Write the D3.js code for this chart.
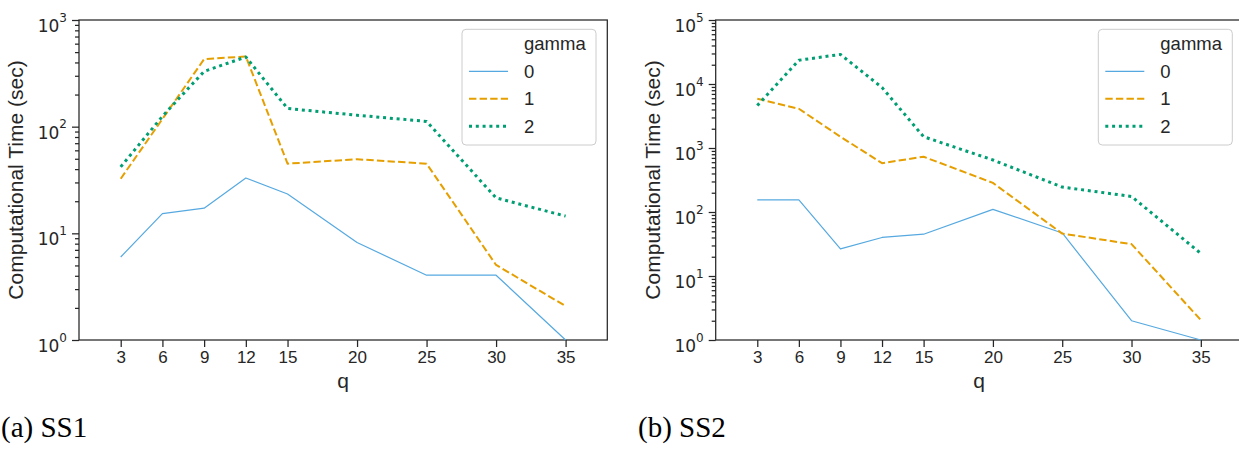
<!DOCTYPE html>
<html>
<head>
<meta charset="utf-8">
<script src="https://cdn.jsdelivr.net/npm/d3@7/dist/d3.min.js"></script>
<style>
  html, body { margin: 0; padding: 0; background: #fff; }
  svg { display: block; }
  .tick line { stroke: #262626; stroke-width: 1.25; }
</style>
</head>
<body>
<div id="chart"></div>
<script>
"use strict";

/* global d3 */

var qValues = [3, 6, 9, 12, 15, 20, 25, 30, 35];
var gammaLabels = ["0", "1", "2"];

// SS1 computational time (sec)
var ss1Gamma0 = [6, 15.3, 17.2, 33, 23.4, 8.2, 4.05, 4.05, 1];
var ss1Gamma1 = [32.5, 118, 430, 455, 45, 49.5, 45, 5.05, 2.08];
var ss1Gamma2 = [42, 125, 330, 450, 148, 128, 112, 21.5, 14.5];

// SS2 computational time (sec)
var ss2Gamma0 = [155, 155, 26.5, 40, 45, 110, 47, 2.0, 1];
var ss2Gamma1 = [5900, 4100, 1500, 580, 730, 285, 46, 31.5, 2.05];
var ss2Gamma2 = [4600, 23500, 29000, 8800, 1500, 650, 245, 175, 22.5];

var ss1YExponents = [0, 1, 2, 3];
var ss2YExponents = [0, 1, 2, 3, 4, 5];

var colors = ["#56a9e0", "#e69f00", "#009e73"];
var widths = [1.2, 2, 3];
var dashes = [null, "7.4,3.2", "3,3.8"];

var textColor = "#262626";

var svg = d3.select("#chart").append("svg")
  .attr("width", 1239)
  .attr("height", 453);

function drawPanel(opts) {
  var x = d3.scaleLinear().domain([0, 38]).range([opts.left, opts.right]);
  var y = d3.scaleLog()
    .domain([1, Math.pow(10, d3.max(opts.exponents))])
    .range([340, 20]);

  var g = svg.append("g");

  // frame
  g.append("rect")
    .attr("x", opts.left).attr("y", 20)
    .attr("width", opts.right - opts.left).attr("height", 320)
    .attr("fill", "none")
    .attr("stroke", textColor)
    .attr("stroke-width", 1.25);

  // x axis
  var xAxis = g.append("g")
    .attr("transform", "translate(0,340)")
    .call(d3.axisBottom(x).tickValues(qValues).tickSize(7).tickPadding(4));
  xAxis.select(".domain").remove();
  xAxis.selectAll(".tick text")
    .attr("fill", textColor)
    .style("font-family", "'Liberation Sans', Arial, sans-serif")
    .style("font-size", "17px");

  // y axis, minor ticks
  var minors = [];
  opts.exponents.slice(0, -1).forEach(function (e) {
    for (var k = 2; k <= 9; k++) minors.push(k * Math.pow(10, e));
  });
  var yMinor = g.append("g")
    .attr("transform", "translate(" + opts.left + ",0)")
    .call(d3.axisLeft(y).tickValues(minors).tickSize(4).tickFormat(""));
  yMinor.select(".domain").remove();
  yMinor.selectAll(".tick line").attr("stroke-width", 1);

  // y axis, major ticks with 10^n labels
  var majors = opts.exponents.map(function (e) { return Math.pow(10, e); });
  var yMajor = g.append("g")
    .attr("transform", "translate(" + opts.left + ",0)")
    .call(d3.axisLeft(y).tickValues(majors).tickSize(7).tickFormat(""));
  yMajor.select(".domain").remove();
  var lab = yMajor.selectAll(".tick").append("text")
    .attr("x", -12)
    .attr("y", 11.5)
    .attr("text-anchor", "end")
    .attr("fill", textColor)
    .style("font-family", "'DejaVu Sans', sans-serif")
    .style("font-size", "17px");
  lab.append("tspan").text("10");
  lab.append("tspan")
    .attr("dy", -10.5)
    .style("font-size", "12px")
    .text(function (d) { return Math.round(Math.log10(d)); });

  // axis titles
  g.append("text")
    .attr("x", (opts.left + opts.right) / 2)
    .attr("y", 388)
    .attr("text-anchor", "middle")
    .attr("fill", textColor)
    .style("font-family", "'Liberation Sans', Arial, sans-serif")
    .style("font-size", "21px")
    .text("q");

  g.append("text")
    .attr("transform", "translate(" + opts.ylabelX + ",180) rotate(-90)")
    .attr("text-anchor", "middle")
    .attr("fill", textColor)
    .style("font-family", "'Liberation Sans', Arial, sans-serif")
    .style("font-size", "21px")
    .text("Computational Time (sec)");

  // lines
  var line = d3.line()
    .x(function (d, i) { return x(qValues[i]); })
    .y(function (d) { return y(d); });

  opts.series.forEach(function (s, i) {
    g.append("path")
      .datum(s)
      .attr("d", line)
      .attr("fill", "none")
      .attr("stroke", colors[i])
      .attr("stroke-width", widths[i])
      .attr("stroke-dasharray", dashes[i])
      .attr("stroke-linejoin", "round");
  });

  // legend
  var lx = opts.legendRight - 134;
  var leg = g.append("g").attr("transform", "translate(" + lx + ",29.3)");
  leg.append("rect")
    .attr("width", 134).attr("height", 115.7)
    .attr("rx", 4)
    .attr("fill", "#fff").attr("fill-opacity", 0.8)
    .attr("stroke", "#cccccc").attr("stroke-width", 1);

  var rows = ["gamma"].concat(gammaLabels);
  rows.forEach(function (r, i) {
    var cy = 14.7 + i * 27.4;
    if (i > 0) {
      leg.append("line")
        .attr("x1", 7).attr("x2", 46)
        .attr("y1", cy).attr("y2", cy)
        .attr("stroke", colors[i - 1])
        .attr("stroke-width", widths[i - 1])
        .attr("stroke-dasharray", dashes[i - 1]);
    }
    leg.append("text")
      .attr("x", 62)
      .attr("y", cy + 6.5)
      .attr("fill", textColor)
      .style("font-family", "'Liberation Sans', Arial, sans-serif")
      .style("font-size", "18.5px")
      .text(r);
  });

  // caption
  svg.append("text")
    .attr("x", opts.captionX)
    .attr("y", 437)
    .attr("fill", "#000")
    .style("font-family", "'Liberation Serif', 'Times New Roman', serif")
    .style("font-size", "29px")
    .text(opts.caption);
}

drawPanel({
  left: 79, right: 607.3, legendRight: 596,
  exponents: ss1YExponents,
  series: [ss1Gamma0, ss1Gamma1, ss1Gamma2],
  ylabelX: 23, captionX: 1, caption: "(a) SS1"
});

drawPanel({
  left: 715.7, right: 1242.4, legendRight: 1232.3,
  exponents: ss2YExponents,
  series: [ss2Gamma0, ss2Gamma1, ss2Gamma2],
  ylabelX: 660, captionX: 638, caption: "(b) SS2"
});
</script>
</body>
</html>
